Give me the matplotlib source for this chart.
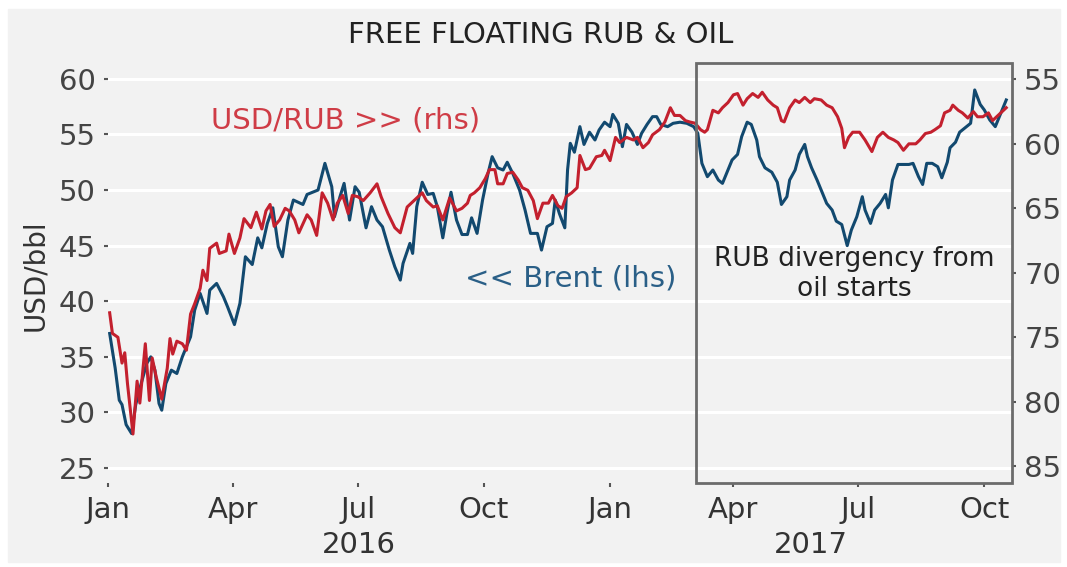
import matplotlib
matplotlib.use("Agg")
import matplotlib.pyplot as plt
import matplotlib.dates as mdates
from matplotlib.patches import Rectangle
from matplotlib.transforms import blended_transform_factory
import pandas as pd

# Brent, USD/bbl (left axis)
brent_dates = [
    "2016-01-02", "2016-01-06", "2016-01-09", "2016-01-11", "2016-01-14", "2016-01-18", "2016-01-21",
    "2016-01-25", "2016-01-29", "2016-02-01", "2016-02-04", "2016-02-07", "2016-02-09", "2016-02-12",
    "2016-02-16", "2016-02-20", "2016-02-24", "2016-03-01", "2016-03-04", "2016-03-08", "2016-03-13",
    "2016-03-15", "2016-03-20", "2016-03-25", "2016-03-28", "2016-04-02", "2016-04-06", "2016-04-10",
    "2016-04-15", "2016-04-19", "2016-04-22", "2016-04-26", "2016-04-30", "2016-05-04", "2016-05-07",
    "2016-05-11", "2016-05-15", "2016-05-22", "2016-05-25", "2016-06-02", "2016-06-07", "2016-06-12",
    "2016-06-14", "2016-06-18", "2016-06-21", "2016-06-25", "2016-06-29", "2016-07-02", "2016-07-07",
    "2016-07-11", "2016-07-15", "2016-07-19", "2016-07-24", "2016-07-28", "2016-08-01", "2016-08-03",
    "2016-08-08", "2016-08-10", "2016-08-13", "2016-08-17", "2016-08-21", "2016-08-25", "2016-08-28",
    "2016-09-01", "2016-09-04", "2016-09-07", "2016-09-11", "2016-09-15", "2016-09-19", "2016-09-22",
    "2016-09-26", "2016-09-30", "2016-10-04", "2016-10-07", "2016-10-11", "2016-10-15", "2016-10-18",
    "2016-10-22", "2016-10-27", "2016-10-31", "2016-11-04", "2016-11-09", "2016-11-12", "2016-11-16",
    "2016-11-20", "2016-11-22", "2016-11-25", "2016-11-29", "2016-12-01", "2016-12-03", "2016-12-06",
    "2016-12-10", "2016-12-13", "2016-12-17", "2016-12-21", "2016-12-24", "2016-12-28", "2017-01-01",
    "2017-01-03", "2017-01-07", "2017-01-10", "2017-01-13", "2017-01-17", "2017-01-21", "2017-01-24",
    "2017-01-28", "2017-02-01", "2017-02-04", "2017-02-07", "2017-02-12", "2017-02-16", "2017-02-21",
    "2017-02-26", "2017-03-03", "2017-03-06", "2017-03-09", "2017-03-13", "2017-03-17", "2017-03-21",
    "2017-03-24", "2017-03-28", "2017-03-31", "2017-04-04", "2017-04-07", "2017-04-11", "2017-04-14",
    "2017-04-18", "2017-04-20", "2017-04-24", "2017-04-29", "2017-05-03", "2017-05-06", "2017-05-10",
    "2017-05-12", "2017-05-16", "2017-05-19", "2017-05-23", "2017-05-25", "2017-05-28", "2017-06-01",
    "2017-06-04", "2017-06-08", "2017-06-12", "2017-06-15", "2017-06-19", "2017-06-23", "2017-06-26",
    "2017-06-30", "2017-07-04", "2017-07-06", "2017-07-10", "2017-07-13", "2017-07-17", "2017-07-21",
    "2017-07-23", "2017-07-26", "2017-07-30", "2017-08-02", "2017-08-07", "2017-08-10", "2017-08-14",
    "2017-08-17", "2017-08-20", "2017-08-24", "2017-08-28", "2017-08-31", "2017-09-04", "2017-09-06",
    "2017-09-10", "2017-09-13", "2017-09-17", "2017-09-21", "2017-09-24", "2017-09-28", "2017-10-01",
    "2017-10-05", "2017-10-09", "2017-10-12", "2017-10-17",
]
brent = [
    37.1, 34.0, 31.1, 30.7, 28.9, 28.1, 30.7,
    32.6, 34.4, 35.0, 33.8, 30.8, 30.2, 32.6,
    33.8, 33.5, 35.0, 36.8, 39.2, 40.7, 38.9,
    41.0, 41.6, 40.4, 39.5, 37.9, 39.8, 44.0,
    43.3, 45.7, 44.8, 47.0, 48.4, 44.9, 44.0,
    47.3, 49.1, 48.7, 49.6, 50.0, 52.4, 50.3,
    47.6, 49.4, 50.6, 47.3, 50.3, 49.8, 46.6,
    48.5, 47.3, 46.7, 44.6, 43.1, 41.9, 43.4,
    45.2, 44.3, 48.5, 50.7, 49.6, 49.7, 48.5,
    45.7, 47.9, 49.8, 47.3, 46.0, 46.0, 47.5,
    46.1, 49.1, 51.5, 53.0, 52.0, 51.8, 52.5,
    51.5, 50.0, 48.2, 46.1, 46.1, 44.6, 46.7,
    47.0, 49.1, 47.9, 46.6, 51.8, 54.2, 53.4,
    55.7, 54.1, 55.2, 54.5, 55.4, 56.1, 55.7,
    56.8, 56.0, 53.9, 55.9, 55.2, 54.1, 55.1,
    55.9, 56.6, 56.6, 55.9, 55.7, 56.0, 56.1,
    56.0, 55.7, 55.1, 52.4, 51.2, 51.8, 50.9,
    50.6, 51.8, 52.7, 53.2, 54.8, 56.1, 55.9,
    54.5, 53.0, 52.0, 51.6, 50.7, 48.7, 49.4,
    50.9, 51.8, 53.2, 54.1, 53.0, 52.0, 50.9,
    50.0, 48.8, 48.2, 47.2, 46.9, 45.0, 46.4,
    47.6, 49.4, 48.2, 47.0, 48.2, 48.8, 49.6,
    48.4, 50.9, 52.3, 52.3, 52.3, 52.4, 51.2,
    50.5, 52.4, 52.4, 52.1, 51.1, 52.5, 53.8,
    54.3, 55.2, 55.6, 56.0, 59.0, 57.7, 57.2,
    56.3, 55.7, 56.6, 58.1,
]

# USD/RUB (right axis, inverted)
rub_dates = [
    "2016-01-02", "2016-01-04", "2016-01-08", "2016-01-11", "2016-01-13", "2016-01-15", "2016-01-19",
    "2016-01-22", "2016-01-24", "2016-01-28", "2016-01-31", "2016-02-02", "2016-02-05", "2016-02-09",
    "2016-02-13", "2016-02-15", "2016-02-17", "2016-02-20", "2016-02-24", "2016-02-27", "2016-03-01",
    "2016-03-04", "2016-03-08", "2016-03-10", "2016-03-13", "2016-03-15", "2016-03-20", "2016-03-22",
    "2016-03-27", "2016-03-29", "2016-04-02", "2016-04-06", "2016-04-09", "2016-04-14", "2016-04-18",
    "2016-04-22", "2016-04-25", "2016-04-28", "2016-05-01", "2016-05-05", "2016-05-09", "2016-05-12",
    "2016-05-16", "2016-05-19", "2016-05-25", "2016-05-28", "2016-06-01", "2016-06-05", "2016-06-09",
    "2016-06-13", "2016-06-16", "2016-06-20", "2016-06-24", "2016-06-27", "2016-07-01", "2016-07-05",
    "2016-07-10", "2016-07-15", "2016-07-18", "2016-07-23", "2016-07-28", "2016-08-01", "2016-08-06",
    "2016-08-09", "2016-08-13", "2016-08-17", "2016-08-20", "2016-08-25", "2016-08-28", "2016-09-01",
    "2016-09-06", "2016-09-11", "2016-09-15", "2016-09-19", "2016-09-21", "2016-09-24", "2016-09-28",
    "2016-10-02", "2016-10-05", "2016-10-09", "2016-10-11", "2016-10-15", "2016-10-18", "2016-10-22",
    "2016-10-26", "2016-10-29", "2016-11-02", "2016-11-06", "2016-11-09", "2016-11-13", "2016-11-17",
    "2016-11-20", "2016-11-24", "2016-11-27", "2016-11-30", "2016-12-04", "2016-12-08", "2016-12-10",
    "2016-12-14", "2016-12-17", "2016-12-22", "2016-12-26", "2016-12-28", "2017-01-01", "2017-01-05",
    "2017-01-08", "2017-01-13", "2017-01-18", "2017-01-21", "2017-01-25", "2017-01-29", "2017-02-01",
    "2017-02-06", "2017-02-10", "2017-02-14", "2017-02-17", "2017-02-21", "2017-02-25", "2017-02-28",
    "2017-03-04", "2017-03-08", "2017-03-11", "2017-03-13", "2017-03-17", "2017-03-21", "2017-03-24",
    "2017-03-28", "2017-04-01", "2017-04-04", "2017-04-08", "2017-04-11", "2017-04-15", "2017-04-19",
    "2017-04-22", "2017-04-26", "2017-04-30", "2017-05-03", "2017-05-06", "2017-05-08", "2017-05-12",
    "2017-05-16", "2017-05-19", "2017-05-23", "2017-05-27", "2017-05-30", "2017-06-04", "2017-06-08",
    "2017-06-12", "2017-06-16", "2017-06-19", "2017-06-21", "2017-06-24", "2017-06-27", "2017-07-02",
    "2017-07-06", "2017-07-11", "2017-07-15", "2017-07-19", "2017-07-23", "2017-07-27", "2017-07-30",
    "2017-08-03", "2017-08-07", "2017-08-12", "2017-08-15", "2017-08-19", "2017-08-23", "2017-08-26",
    "2017-08-30", "2017-09-02", "2017-09-06", "2017-09-08", "2017-09-12", "2017-09-15", "2017-09-19",
    "2017-09-23", "2017-09-26", "2017-09-30", "2017-10-04", "2017-10-07", "2017-10-11", "2017-10-15",
    "2017-10-17",
]
rub = [
    73.1, 74.7, 75.0, 77.0, 76.2, 78.6, 82.5,
    78.4, 80.1, 75.5, 79.9, 76.6, 78.1, 79.8,
    77.4, 75.1, 76.3, 75.3, 75.5, 76.0, 73.2,
    72.4, 71.2, 69.8, 70.6, 68.1, 67.7, 68.5,
    68.3, 67.0, 68.5, 67.3, 65.8, 66.5, 65.3,
    66.6, 65.2, 64.7, 66.4, 65.9, 65.0, 65.2,
    65.9, 66.9, 65.5, 65.9, 67.1, 63.8, 64.6,
    65.9, 64.6, 64.0, 65.4, 64.0, 64.1, 64.4,
    63.8, 63.1, 64.1, 65.4, 66.5, 66.9, 64.9,
    64.6, 64.2, 63.8, 64.4, 64.9, 64.8, 65.9,
    64.2, 65.2, 65.0, 64.6, 64.0, 63.8, 63.4,
    62.7, 62.0, 62.0, 63.1, 63.1, 62.3, 62.2,
    62.8, 63.4, 63.6, 64.4, 65.8, 64.6, 64.6,
    64.0, 64.8, 65.0, 64.1, 63.8, 63.4, 60.9,
    62.0, 61.9, 61.0, 60.9, 60.5, 61.3, 59.5,
    59.9, 59.5, 59.7, 59.5, 60.3, 59.9, 59.3,
    58.9, 58.3, 57.2, 57.8, 57.8, 58.2, 58.3,
    58.4, 58.9, 59.1, 58.9, 57.4, 57.6, 57.2,
    56.8, 56.2, 56.1, 57.0, 56.5, 56.1, 56.4,
    56.0, 56.6, 57.0, 57.2, 58.2, 58.3, 57.2,
    56.6, 56.8, 56.4, 56.8, 56.5, 56.6, 57.0,
    57.2, 57.9, 58.8, 60.3, 59.5, 59.1, 59.1,
    59.7, 60.6, 59.5, 59.1, 59.5, 59.7, 59.9,
    60.5, 60.0, 60.0, 59.7, 59.2, 59.1, 58.9,
    58.6, 57.6, 57.4, 57.0, 57.4, 57.6, 58.0,
    57.5, 57.9, 57.9, 57.6, 58.2, 57.8, 57.4,
    57.2,
]

left_ticks = [25, 30, 35, 40, 45, 50, 55, 60]
right_ticks = [55, 60, 65, 70, 75, 80, 85]
x_start, x_end = "2016-01-01", "2017-10-21"
box_start = "2017-03-05"

blue = "#12496f"
red = "#c3202e"
bg = "#f2f2f2"

fig = plt.figure(figsize=(10.67, 5.67), dpi=100, facecolor="white")
fig.patches.append(Rectangle((8 / 1067, 5 / 567), 1052 / 1067, 553 / 567,
                             transform=fig.transFigure, color=bg, zorder=-10))

ax = fig.add_axes([0.1015, 0.1481, 0.8467, 0.7413])
ax.set_facecolor(bg)
ax2 = ax.twinx()

ax.plot(pd.to_datetime(brent_dates), brent, color=blue, lw=2.2)
ax2.plot(pd.to_datetime(rub_dates), rub, color=red, lw=2.2)

ax.set_xlim(pd.Timestamp(x_start), pd.Timestamp(x_end))
ax.set_ylim(23.65, 61.45)
ax2.set_ylim(86.3, 53.71)
ax.set_yticks(left_ticks)
ax2.set_yticks(right_ticks)

ax.grid(axis="y", color="white", lw=2.2)
ax.set_axisbelow(True)
for a in (ax, ax2):
    for s in a.spines.values():
        s.set_visible(False)

ax.xaxis.set_major_locator(mdates.MonthLocator(bymonth=[1, 4, 7, 10]))
ax.xaxis.set_major_formatter(mdates.DateFormatter("%b"))
ax.tick_params(axis="x", length=3, width=1.5, color="#555555", pad=6, labelsize=21, labelcolor="#333333")
ax.tick_params(axis="y", length=3, width=1.5, color="#555555", pad=6, labelsize=21, labelcolor="#444444")
ax2.tick_params(axis="y", length=3, width=1.5, color="#555555", pad=6, labelsize=21, labelcolor="#444444")

# highlight box for 2017 divergence
trans = blended_transform_factory(ax.transData, ax.transAxes)
x0 = mdates.date2num(pd.Timestamp(box_start))
x1 = mdates.date2num(pd.Timestamp(x_end))
ax2.add_patch(Rectangle((x0, 0), x1 - x0, 1, transform=trans, fill=False,
                        ec="#6b6b6b", lw=2, clip_on=False, zorder=5))

# year labels centred under each year's span
for year, lo, hi in [("2016", "2016-01-01", "2017-01-01"), ("2017", "2017-01-01", x_end)]:
    mid = (mdates.date2num(pd.Timestamp(lo)) + mdates.date2num(pd.Timestamp(hi))) / 2
    ax.text(mid, -0.148, year, transform=trans, ha="center", va="center",
            fontsize=21, color="#333333")

fig.text(541 / 1067, 1 - 35 / 567, "FREE FLOATING RUB & OIL", ha="center", va="center",
         fontsize=21, color="#222222")
fig.text(346 / 1067, 1 - 121 / 567, "USD/RUB >> (rhs)", ha="center", va="center",
         fontsize=21, color="#cf3c46")
fig.text(571 / 1067, 1 - 278 / 567, "<< Brent (lhs)", ha="center", va="center",
         fontsize=21, color="#2a5f87")
fig.text(854 / 1067, 1 - 274 / 567, "RUB divergency from\noil starts", ha="center", va="center",
         fontsize=19, color="#222222", linespacing=1.2)
fig.text(35 / 1067, 1 - 275 / 567, "USD/bbl", rotation=90, ha="center", va="center",
         fontsize=20, color="#333333")

fig.savefig("out.png", dpi=100, facecolor=fig.get_facecolor())
